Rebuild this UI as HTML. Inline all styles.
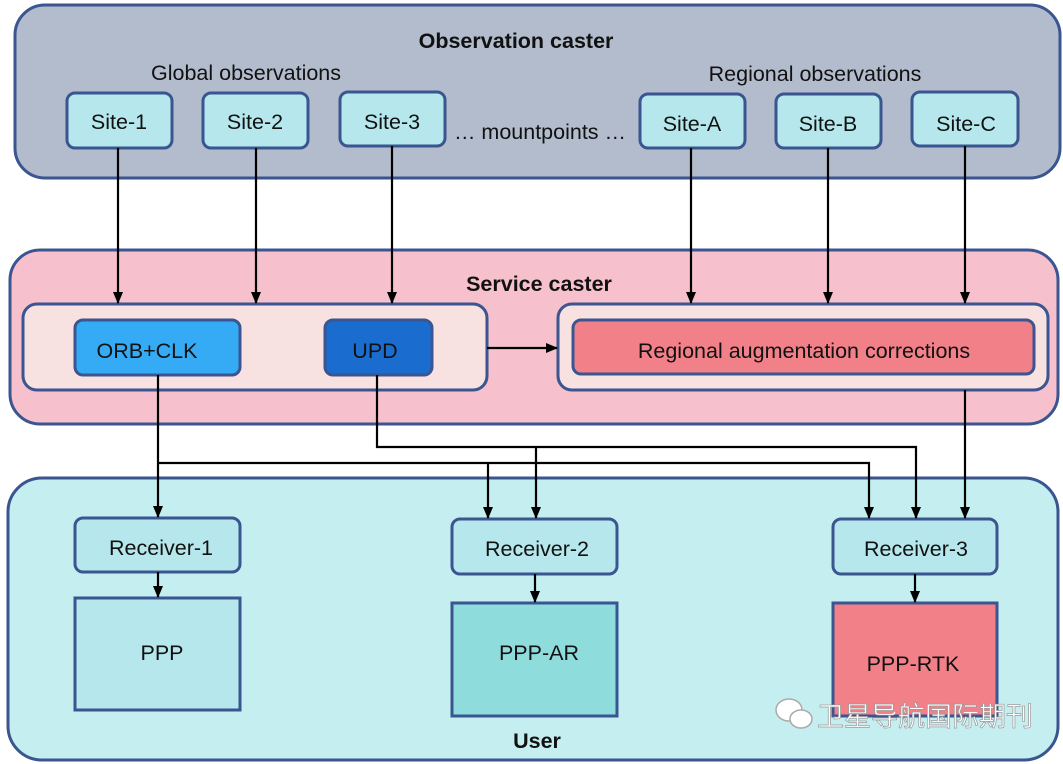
<!DOCTYPE html>
<html><head><meta charset="utf-8"><style>
body{margin:0;background:#fff}
svg{display:block;font-family:"Liberation Sans","Noto Sans CJK SC",sans-serif}
</style></head><body>
<svg width="1063" height="764" viewBox="0 0 1063 764" xmlns="http://www.w3.org/2000/svg">
<defs><marker id="a" markerWidth="12" markerHeight="12" refX="11" refY="6" orient="auto" markerUnits="userSpaceOnUse"><path d="M0,1 L12,6 L0,11 z" fill="#000"/></marker></defs>
<g stroke="#3a5590" stroke-width="3">
<rect x="15" y="5" width="1045" height="173" rx="30" fill="#b3bccd"/>
<rect x="10" y="250" width="1048" height="174" rx="30" fill="#f6c1cc"/>
<rect x="8" y="478" width="1050" height="282" rx="34" fill="#c5eef0"/>
<rect x="23" y="304" width="464" height="86" rx="14" fill="#f8e1e1"/>
<rect x="558" y="304" width="490" height="86" rx="14" fill="#f8e1e1"/>
<rect x="75" y="320" width="165" height="55" rx="8" fill="#35abf5"/>
<rect x="325" y="320" width="107" height="55" rx="8" fill="#1b6ccf"/>
<rect x="573" y="320" width="461" height="54" rx="8" fill="#f18088"/>
<g fill="#b5e7ec">
<rect x="67" y="93" width="105" height="55" rx="8"/>
<rect x="203" y="93" width="105" height="55" rx="8"/>
<rect x="340" y="92" width="105" height="54" rx="8"/>
<rect x="640" y="94" width="105" height="54" rx="8"/>
<rect x="776" y="94" width="105" height="54" rx="8"/>
<rect x="912" y="92" width="106" height="54" rx="8"/>
<rect x="75" y="518" width="165" height="54" rx="8"/>
<rect x="452" y="519" width="165" height="55" rx="8"/>
<rect x="833" y="519" width="164" height="55" rx="8"/>
<rect x="75" y="598" width="165" height="112"/>
</g>
<rect x="452" y="603" width="165" height="113" fill="#8fdcdc"/>
<rect x="833" y="603" width="164" height="113" fill="#f18088"/>
</g>
<g stroke="#000" stroke-width="2.2" fill="none" marker-end="url(#a)">
<path d="M118 148V303"/><path d="M256 148V303"/><path d="M392 146V303"/>
<path d="M691 148V303"/><path d="M828 148V303"/><path d="M965 146V303"/>
<path d="M487 348H557"/>
<path d="M158 375V517"/>
<path d="M158 463H869V518"/>
<path d="M488 463V518"/>
<path d="M377 375V447H916V518"/>
<path d="M536 447V518"/>
<path d="M965 390V518"/>
<path d="M158 572V597"/><path d="M535 574V602"/><path d="M915 574V602"/>
</g>
<g font-size="21.5" fill="#111" text-anchor="middle">
<text x="516" y="48" font-weight="bold">Observation caster</text>
<text x="246" y="80">Global observations</text>
<text x="815" y="81">Regional observations</text>
<text x="540" y="139">… mountpoints …</text>
<text x="119" y="129">Site-1</text><text x="255" y="129">Site-2</text><text x="392" y="129">Site-3</text>
<text x="692" y="131">Site-A</text><text x="828" y="131">Site-B</text><text x="966" y="131">Site-C</text>
<text x="539" y="291" font-weight="bold">Service caster</text>
<text x="147" y="358">ORB+CLK</text>
<text x="375" y="358">UPD</text>
<text x="804" y="358">Regional augmentation corrections</text>
<text x="161" y="555">Receiver-1</text><text x="537" y="556">Receiver-2</text><text x="916" y="556">Receiver-3</text>
<text x="162" y="660">PPP</text><text x="539" y="660">PPP-AR</text><text x="913" y="671">PPP-RTK</text>
<text x="537" y="748" font-weight="bold">User</text>
<text x="925" y="726" font-size="27" fill="#fff" stroke="#999" stroke-width="0.7">卫星导航国际期刊</text>
</g>
<g fill="#fff" stroke="#aaa" stroke-width="1.5"><ellipse cx="789" cy="710" rx="13" ry="11"/><ellipse cx="801" cy="719" rx="11" ry="9"/></g>
</svg>
</body></html>
